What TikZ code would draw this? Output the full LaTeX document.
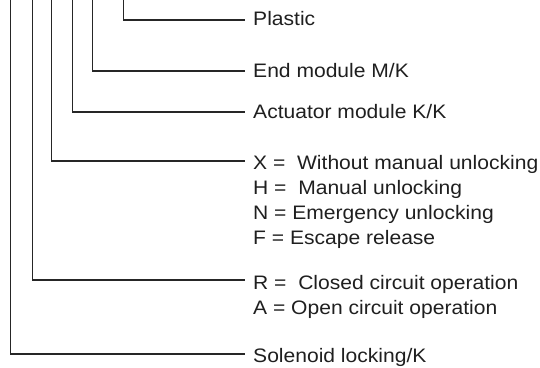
\documentclass[tikz,border=0pt]{standalone}
\usepackage{fontspec}
\setmainfont[FakeStretch=1.08]{Liberation Sans}
\begin{document}
\begin{tikzpicture}[x=1pt,y=-1pt,
  conn/.style={draw=black!85, line width=1.1pt},
  lbl/.style={anchor=base west, inner sep=0pt, text=black!88, font=\fontsize{19.5}{24}\selectfont}]
\useasboundingbox (0,0) rectangle (540,367);
% top ends of the vertical leads
\coordinate (t1) at (123.5,0);
\coordinate (t2) at (92.5,0);
\coordinate (t3) at (72.5,0);
\coordinate (t4) at (51.5,0);
\coordinate (t5) at (32.3,0);
\coordinate (t6) at (10.5,0);
% right ends of the horizontal leads
\coordinate (e1) at (245,20);
\coordinate (e2) at (245,71);
\coordinate (e3) at (245,112);
\coordinate (e4) at (245,161);
\coordinate (e5) at (245,280);
\coordinate (e6) at (245,354);
% labels
\node[lbl] (plastic) at (253,25.7) {Plastic};
\node[lbl] (endmod) at (253,77) {End module M/K};
\node[lbl] (actmod) at (253,118.3) {Actuator module K/K};
\node[lbl] (x) at (253,169) {X =~ Without manual unlocking};
\node[lbl] (h) at (253,194) {H =~ Manual unlocking};
\node[lbl] (n) at (253,219) {N = Emergency unlocking};
\node[lbl] (f) at (253,244) {F = Escape release};
\node[lbl] (r) at (253,289.3) {R =~ Closed circuit operation};
\node[lbl] (a) at (253,314.5) {A = Open circuit operation};
\node[lbl] (sol) at (253,362.5) {Solenoid locking/K};
% connectors
\draw[conn] (t1) |- (e1);
\draw[conn] (t2) |- (e2);
\draw[conn] (t3) |- (e3);
\draw[conn] (t4) |- (e4);
\draw[conn] (t5) |- (e5);
\draw[conn] (t6) |- (e6);
\end{tikzpicture}
\end{document}
